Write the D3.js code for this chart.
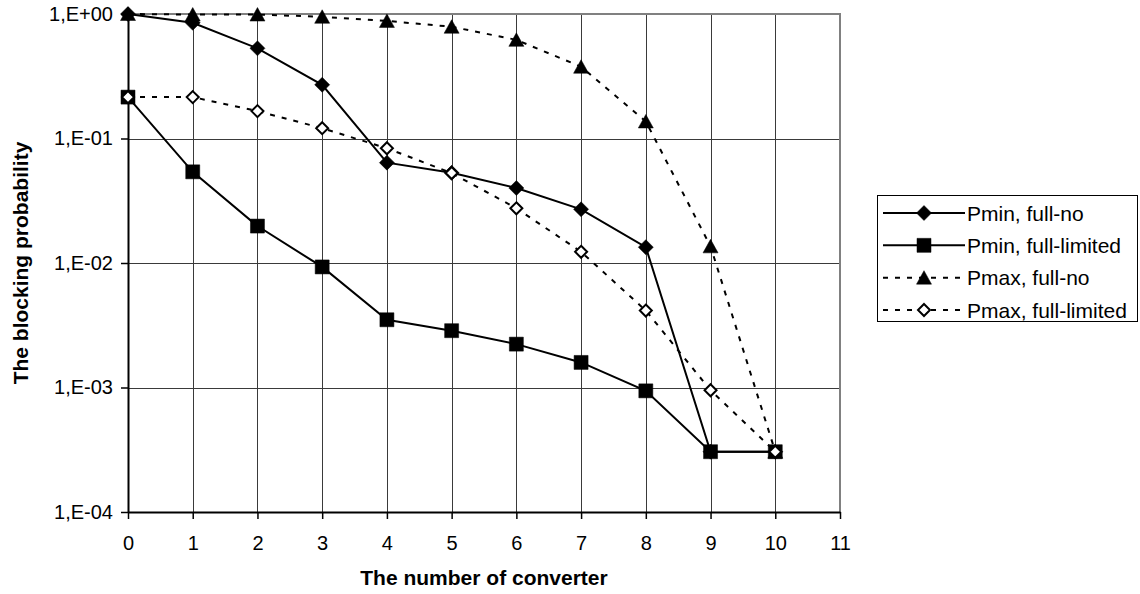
<!doctype html>
<html>
  <head>
    <script src="https://d3js.org/d3.v7.min.js" charset="utf-8"></script>
    <style>
      body { margin: 0; background: #fff; }
      text { font-family: Arial, "Liberation Sans", sans-serif; fill: #000; }
    </style>
  </head>
  <body>
    <script>

// data
var converters = [0, 1, 2, 3, 4, 5, 6, 7, 8, 9, 10];
var pminFullNo      = [1.0, 0.85, 0.53, 0.27, 0.064, 0.053, 0.040, 0.027, 0.0134, 0.000305, 0.000305];
var pminFullLimited = [0.215, 0.054, 0.0198, 0.0093, 0.0035, 0.00286, 0.00223, 0.00159, 0.00094, 0.000305, 0.000305];
var pmaxFullNo      = [1.0, 0.99, 0.99, 0.95, 0.88, 0.79, 0.62, 0.377, 0.137, 0.0136, 0.000305];
var pmaxFullLimited = [0.215, 0.215, 0.166, 0.121, 0.0835, 0.0528, 0.0275, 0.0123, 0.00415, 0.00095, 0.000305];

var seriesNames = ["Pmin, full-no", "Pmin, full-limited", "Pmax, full-no", "Pmax, full-limited"];
var xTicks = [0, 1, 2, 3, 4, 5, 6, 7, 8, 9, 10, 11];
var yTicks = [1, 0.1, 0.01, 0.001, 0.0001];
var yTickLabels = ["1,E+00", "1,E-01", "1,E-02", "1,E-03", "1,E-04"];

var series = [
  { name: seriesNames[0], values: pminFullNo, dash: null, marker: "diamond" },
  { name: seriesNames[1], values: pminFullLimited, dash: null, marker: "square" },
  { name: seriesNames[2], values: pmaxFullNo, dash: "5,7", marker: "triangle" },
  { name: seriesNames[3], values: pmaxFullLimited, dash: "5,7", marker: "open" }
];

var svg = d3.select("body")
  .append("svg")
    .attr("width", 1140)
    .attr("height", 594);

// plot area (not named top/left: window.top is taken)
var plotL = 128, plotR = 840, plotT = 14, plotB = 512;

var x = d3.scaleLinear().domain([0, 11]).range([plotL, plotR]);
var y = d3.scaleLog().domain([0.0001, 1]).range([plotB, plotT]);

// grid
var grid = svg.append("g");
grid.selectAll("line.v")
  .data(xTicks.slice(1, -1))
  .enter().append("line")
    .attr("x1", function(d) { return Math.round(x(d)) + 0.5; })
    .attr("x2", function(d) { return Math.round(x(d)) + 0.5; })
    .attr("y1", plotT)
    .attr("y2", plotB)
    .attr("stroke", "#3a3a3a")
    .attr("stroke-width", 1);
grid.selectAll("line.h")
  .data(yTicks.slice(1, -1))
  .enter().append("line")
    .attr("x1", plotL)
    .attr("x2", plotR)
    .attr("y1", function(d) { return Math.round(y(d)) + 0.5; })
    .attr("y2", function(d) { return Math.round(y(d)) + 0.5; })
    .attr("stroke", "#3a3a3a")
    .attr("stroke-width", 1);

// gray top and right borders
svg.append("line")
  .attr("x1", plotL).attr("x2", plotR + 1)
  .attr("y1", plotT).attr("y2", plotT)
  .attr("stroke", "#808080").attr("stroke-width", 2);
svg.append("line")
  .attr("x1", plotR).attr("x2", plotR)
  .attr("y1", plotT).attr("y2", plotB)
  .attr("stroke", "#808080").attr("stroke-width", 2);

// axes
var yAxis = d3.axisLeft(y)
  .tickValues(yTicks)
  .tickFormat(function(d, i) { return yTickLabels[i]; })
  .tickSize(7)
  .tickPadding(8)
  .tickSizeOuter(0);
var gy = svg.append("g")
  .attr("transform", "translate(" + plotL + ",0)")
  .call(yAxis);

var xAxis = d3.axisBottom(x)
  .tickValues(xTicks)
  .tickFormat(d3.format("d"))
  .tickSize(7)
  .tickPadding(17)
  .tickSizeOuter(0);
var gx = svg.append("g")
  .attr("transform", "translate(0," + plotB + ")")
  .call(xAxis);

[gx, gy].forEach(function(g) {
  g.select(".domain").attr("stroke", "#000").attr("stroke-width", 2);
  g.selectAll(".tick line").attr("stroke", "#000").attr("stroke-width", 1.5);
  g.selectAll(".tick text")
    .style("font-family", "Arial, 'Liberation Sans', sans-serif")
    .style("font-size", "20px")
    .attr("fill", "#000");
});

// markers
function markerPath(type) {
  if (type === "square") return "M-7,-7L7,-7L7,7L-7,7Z";
  if (type === "triangle") return "M0,-7L7.5,6.5L-7.5,6.5Z";
  if (type === "open") return "M0,-6L6,0L0,6L-6,0Z";
  return "M0,-7.5L7.5,0L0,7.5L-7.5,0Z";
}
function drawMarker(sel, type) {
  sel.append("path")
    .attr("d", markerPath(type))
    .attr("fill", type === "open" ? "#fff" : "#000")
    .attr("stroke", "#000")
    .attr("stroke-width", type === "open" ? 2 : 0.5);
}

var line = d3.line()
  .x(function(d, i) { return x(converters[i]); })
  .y(function(d) { return y(d); });

series.forEach(function(s) {
  var g = svg.append("g");
  g.append("path")
    .attr("d", line(s.values))
    .attr("fill", "none")
    .attr("stroke", "#000")
    .attr("stroke-width", 2)
    .attr("stroke-dasharray", s.dash);
  g.selectAll("g.pt")
    .data(s.values)
    .enter().append("g")
      .attr("transform", function(d, i) {
        return "translate(" + x(converters[i]) + "," + y(d) + ")";
      })
      .each(function() { drawMarker(d3.select(this), s.marker); });
});

// axis titles
svg.append("text")
  .attr("x", (plotL + plotR) / 2)
  .attr("y", 585)
  .attr("text-anchor", "middle")
  .style("font-size", "21px")
  .style("font-weight", "bold")
  .text("The number of converter");

svg.append("text")
  .attr("transform", "translate(20," + ((plotT + plotB) / 2) + ") rotate(-90)")
  .attr("text-anchor", "middle")
  .attr("dominant-baseline", "central")
  .style("font-size", "21px")
  .style("font-weight", "bold")
  .text("The blocking probability");

// legend
var legend = svg.append("g");
legend.append("rect")
  .attr("x", 877.5).attr("y", 195.5)
  .attr("width", 260).attr("height", 126)
  .attr("fill", "#fff")
  .attr("stroke", "#000")
  .attr("stroke-width", 1);

var rowY = d3.scaleLinear().domain([0, 3]).range([213, 310]);
series.forEach(function(s, i) {
  var row = legend.append("g").attr("transform", "translate(0," + rowY(i) + ")");
  row.append("line")
    .attr("x1", 883).attr("x2", 965)
    .attr("y1", 0).attr("y2", 0)
    .attr("stroke", "#000")
    .attr("stroke-width", 2)
    .attr("stroke-dasharray", s.dash);
  drawMarker(row.append("g").attr("transform", "translate(924,0)"), s.marker);
  row.append("text")
    .attr("x", 967)
    .attr("y", 0)
    .attr("dominant-baseline", "central")
    .style("font-size", "21px")
    .text(s.name);
});

    </script>
  </body>
</html>
